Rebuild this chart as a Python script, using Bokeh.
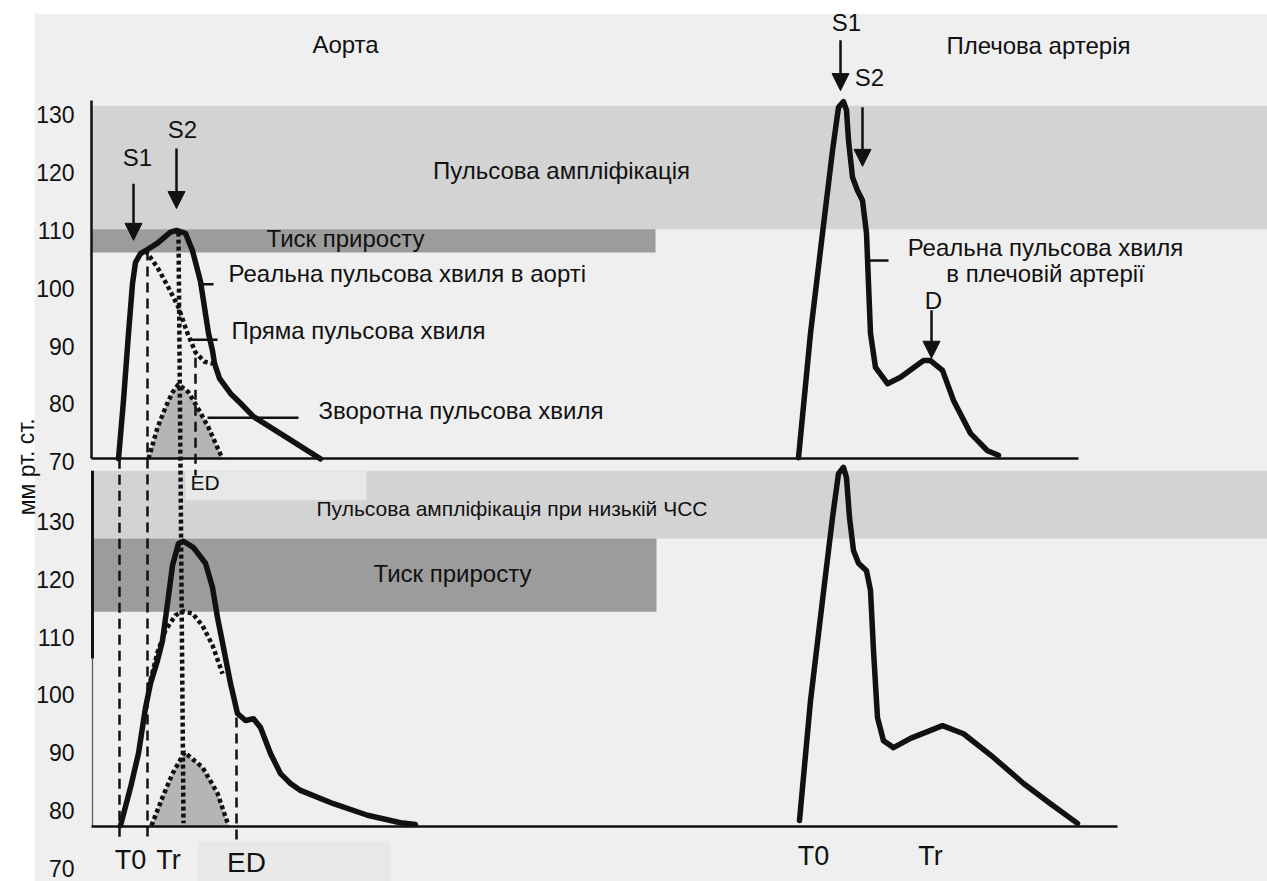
from bokeh.plotting import figure
from bokeh.models import Range1d, ColumnDataSource, Arrow, NormalHead
from bokeh.core.properties import value
from bokeh.embed import file_html
from bokeh.resources import INLINE

FONT = value("Liberation Sans")

# ---------------- data (time units, pressure in mmHg) ----------------
# Top panel: aorta
aorta_t = [118, 123, 128, 132, 135, 140, 145, 157, 170, 176, 185, 192, 200, 208, 212, 214, 219, 230, 240, 253, 286, 320]
aorta_p = [70.5, 80.6, 92.2, 100.8, 104.5, 106.0, 106.5, 107.8, 109.7, 110.0, 109.5, 106.5, 101.2, 92.2, 89.2, 87.0, 84.4, 81.8, 80.1, 77.8, 74.2, 70.5]
forward_t = [145, 157, 168, 178, 187, 195, 204, 212]
forward_p = [106.5, 103.6, 100.1, 96.7, 92.2, 88.9, 87.3, 87.0]
reflected_t = [148, 157, 165, 172, 178, 188, 197, 208, 222]
reflected_p = [70.5, 75.9, 79.4, 82.0, 83.4, 82.0, 79.4, 75.9, 70.5]

# Top panel: brachial artery
brach_t = [798, 810, 822, 832, 838, 843, 846, 848, 852, 857, 862, 866, 868, 870, 875, 887, 900, 923, 930, 942, 953, 970, 987, 998]
brach_p = [70.7, 92.2, 109.5, 123.8, 131.3, 132.3, 130.8, 125.6, 119.2, 116.9, 115.2, 109.5, 100.8, 92.2, 86.3, 83.5, 84.6, 87.5, 87.5, 85.8, 80.6, 74.9, 71.9, 71.1]

# Bottom panel (low heart rate): aorta
aorta_lo_t = [120, 130, 138, 145, 150, 157, 162, 167, 172, 178, 183, 193, 205, 212, 217, 223, 230, 237, 245, 253, 260, 270, 280, 290, 300, 333, 367, 400, 415]
aorta_lo_p = [77.9, 84.5, 90.4, 98.3, 102.5, 106.5, 109.9, 116.3, 122.9, 126.7, 127.1, 126.0, 123.3, 119.1, 113.9, 108.7, 102.5, 97.3, 96.1, 96.4, 94.9, 90.4, 86.9, 85.2, 84.0, 81.7, 79.7, 78.4, 78.1]
forward_lo_t = [150, 157, 165, 175, 183, 192, 202, 212, 222]
forward_lo_p = [103.0, 107.9, 111.7, 114.3, 115.0, 114.6, 112.5, 109.1, 104.2]
reflected_lo_t = [151, 162, 172, 184, 202, 217, 228]
reflected_lo_p = [77.9, 82.8, 86.9, 90.6, 88.0, 83.5, 77.9]

# Bottom panel: brachial artery
brach_lo_t = [799, 810, 822, 832, 838, 843, 846, 849, 853, 858, 866, 870, 873, 877, 883, 893, 910, 942, 963, 993, 1023, 1050, 1077]
brach_lo_p = [78.8, 99.5, 116.9, 131.2, 138.8, 139.9, 138.1, 131.2, 125.5, 123.3, 122.0, 118.6, 108.2, 96.6, 92.6, 91.4, 93.0, 95.2, 93.8, 89.7, 85.2, 81.7, 78.3]

# Pressure bands (mmHg)
amp_band = [110.2, 131.6]
aug_band = [106.2, 110.2]
amp_band_lo = [127.6, 139.3]
aug_band_lo = [114.9, 127.6]

# Tick labels
tick_values = [70, 80, 90, 100, 110, 120, 130]
tick_labels = [str(v) for v in tick_values]

# Baselines
base_top = 70.55
base_bot = 77.75

# ---------------- figure ----------------
W, H = 1267, 881
p = figure(width=W, height=H, output_backend="svg", toolbar_location=None,
           x_range=Range1d(0, 1267), y_range=Range1d(-2.63, 149.79),
           x_axis_location=None, y_axis_location=None, min_border=0)
p.extra_y_ranges = {"bot": Range1d(68.24, 220.66)}
p.grid.visible = False
p.outline_line_color = None
p.background_fill_color = "white"
p.border_fill_color = "white"

BG = "#efefef"
LIGHT = "#d3d3d3"
DARK = "#9c9c9c"
BOX = "#e8e8e8"
FILL = "#b5b5b5"
INK = "#111111"
DOT = "4 3"
TXT = "24px"

# background panel
p.quad(left=34, right=1267, top=147.5, bottom=-2.63, fill_color=BG, line_color=None)

# bands
p.quad(left=91, right=1267, bottom=amp_band[0], top=amp_band[1], fill_color=LIGHT, line_color=None)
p.quad(left=91, right=655, bottom=aug_band[0], top=aug_band[1], fill_color=DARK, line_color=None)
p.quad(left=91, right=1267, bottom=amp_band_lo[0], top=amp_band_lo[1], fill_color=LIGHT, line_color=None, y_range_name="bot")
p.quad(left=91, right=656, bottom=aug_band_lo[0], top=aug_band_lo[1], fill_color=DARK, line_color=None, y_range_name="bot")
# label boxes
p.quad(left=185, right=366, bottom=134.2, top=139.2, fill_color=BOX, line_color=None, y_range_name="bot")
p.quad(left=197, right=390, bottom=68.24, top=75.2, fill_color=BOX, line_color=None, y_range_name="bot")

# reflected-wave fills
p.varea(x=reflected_t, y1=[base_top] * len(reflected_t), y2=reflected_p, fill_color=FILL)
p.varea(x=reflected_lo_t, y1=[base_bot] * len(reflected_lo_t), y2=reflected_lo_p, fill_color=FILL, y_range_name="bot")

# axes lines
p.line([91, 91], [132.5, base_top], line_color=INK, line_width=2.5)
p.line([91, 1078], [base_top, base_top], line_color=INK, line_width=2.5)
p.line([92, 92], [139.3, 106.8], line_color=INK, line_width=3, y_range_name="bot")
p.line([92, 92], [106.8, base_bot], line_color="#555555", line_width=1.2, y_range_name="bot")
p.line([91, 1117], [base_bot, base_bot], line_color=INK, line_width=2.5, y_range_name="bot")

# guide lines
dash = "10 6"
p.segment(x0=[119, 147, 236], y0=[141.4, 177.4, 96.6], x1=[119, 147, 236], y1=[75.3, 75.3, 75.3],
          line_color=INK, line_width=2.5, line_dash=dash, y_range_name="bot")
p.segment(x0=[195], y0=[88.0], x1=[195], y1=[67.6], line_color=INK, line_width=2.5, line_dash=dash)
p.segment(x0=[178], y0=[180.5], x1=[183], y1=[78.3], line_color=INK, line_width=4.5, line_dash=DOT, y_range_name="bot")

# curves
p.line(aorta_t, aorta_p, line_color=INK, line_width=5.5, line_join="round", line_cap="round")
p.line(forward_t, forward_p, line_color=INK, line_width=4.5, line_dash=DOT)
p.line(reflected_t, reflected_p, line_color=INK, line_width=4.5, line_dash=DOT)
p.line(brach_t, brach_p, line_color=INK, line_width=5.5, line_join="round", line_cap="round")
p.line(aorta_lo_t, aorta_lo_p, line_color=INK, line_width=5.5, line_join="round", line_cap="round", y_range_name="bot")
p.line(forward_lo_t, forward_lo_p, line_color=INK, line_width=4.5, line_dash=DOT, y_range_name="bot")
p.line(reflected_lo_t, reflected_lo_p, line_color=INK, line_width=4.5, line_dash=DOT, y_range_name="bot")
p.line(brach_lo_t, brach_lo_p, line_color=INK, line_width=5.5, line_join="round", line_cap="round", y_range_name="bot")

# pointer ticks
p.segment(x0=[198, 190, 207, 869], y0=[100.7, 91.1, 77.6, 104.8],
          x1=[213, 217, 298, 888], y1=[100.7, 91.1, 77.6, 104.8], line_color=INK, line_width=2.5)

# arrows
arr = ColumnDataSource(dict(xs=[133, 176, 840, 862, 931], ys=[118.1, 124.2, 142.9, 131.3, 96.2],
                            xe=[133, 176, 840, 862, 931], ye=[108.3, 113.8, 134.2, 121.1, 87.9]))
p.add_layout(Arrow(end=NormalHead(size=17, fill_color=INK, line_color=INK), source=arr,
                   x_start="xs", y_start="ys", x_end="xe", y_end="ye", line_color=INK, line_width=2.5))

# tick labels
p.text(x=[74] * 7, y=tick_values, text=tick_labels, text_font=FONT, text_font_size="23px",
       text_align="right", text_baseline="middle", text_color=INK)
p.text(x=[74] * 7, y=tick_values, text=tick_labels, text_font=FONT, text_font_size="23px",
       text_align="right", text_baseline="middle", text_color=INK, y_range_name="bot", y_offset=-3)

# texts top panel
top_txt = ColumnDataSource(dict(
    x=[345, 1038, 561, 345, 1045, 1045, 933, 137, 182, 846, 869],
    y=[142.2, 142.0, 120.4, 108.6, 107.1, 102.6, 97.9, 122.6, 127.5, 146.0, 136.5],
    text=["Аорта", "Плечова артерія", "Пульсова ампліфікація", "Тиск приросту",
          "Реальна пульсова хвиля", "в плечовій артерії", "D", "S1", "S2", "S1", "S2"]))
p.text(x="x", y="y", text="text", source=top_txt, text_font=FONT, text_font_size=TXT,
       text_align="center", text_baseline="middle", text_color=INK)
left_txt = ColumnDataSource(dict(
    x=[228, 231, 318],
    y=[102.6, 92.7, 78.9],
    text=["Реальна пульсова хвиля в аорті", "Пряма пульсова хвиля", "Зворотна пульсова хвиля"]))
p.text(x="x", y="y", text="text", source=left_txt, text_font=FONT, text_font_size=TXT,
       text_align="left", text_baseline="middle", text_color=INK)

# texts bottom panel
p.text(x=[190], y=[137.3], text=["ED"],
       text_font=FONT, text_font_size="21px", text_align="left", text_baseline="middle",
       text_color=INK, y_range_name="bot")
p.text(x=[316], y=[132.8], text=["Пульсова ампліфікація при низькій ЧСС"],
       text_font=FONT, text_font_size="21px", text_align="left", text_baseline="middle",
       text_color=INK, y_range_name="bot")
p.text(x=[452], y=[121.5], text=["Тиск приросту"], text_font=FONT, text_font_size=TXT,
       text_align="center", text_baseline="middle", text_color=INK, y_range_name="bot")
p.text(x=[130, 168, 813, 930], y=[71.9, 71.9, 72.7, 72.7], text=["T0", "Tr", "T0", "Tr"],
       text_font=FONT, text_font_size="27px", text_align="center", text_baseline="middle",
       text_color=INK, y_range_name="bot")
p.text(x=[246], y=[71.5], text=["ED"], text_font=FONT, text_font_size="28px",
       text_align="center", text_baseline="middle", text_color=INK, y_range_name="bot")
p.text(x=[26], y=[140.0], text=["мм рт. ст."], text_font=FONT, text_font_size="23px",
       text_align="center", text_baseline="middle", angle=1.5708, text_color=INK, y_range_name="bot")

open("out.html", "w").write(file_html(p, INLINE))
